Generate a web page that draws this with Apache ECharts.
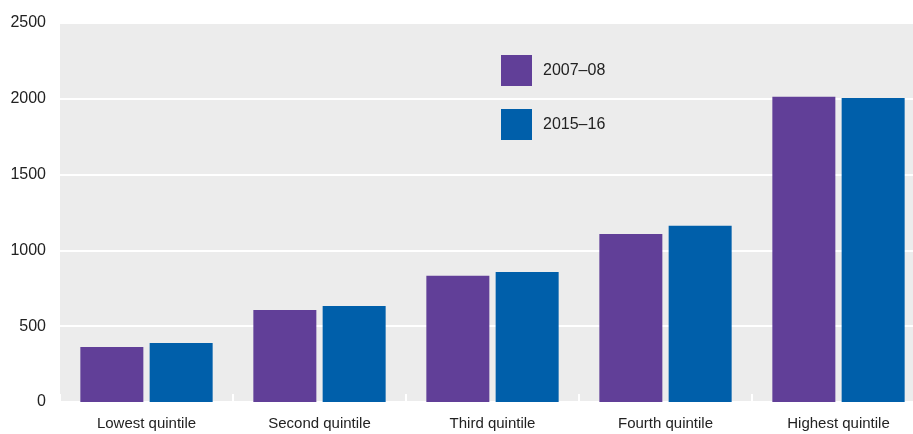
<!DOCTYPE html>
<html>
<head>
<meta charset="utf-8">
<script src="https://cdn.jsdelivr.net/npm/echarts@6/dist/echarts.min.js"></script>
<style>
html,body{margin:0;padding:0;background:#fff;overflow:hidden;}
#chart{width:925px;height:434px;}
</style>
</head>
<body>
<div id="chart"></div>
<script>
const categories = ['Lowest quintile', 'Second quintile', 'Third quintile', 'Fourth quintile', 'Highest quintile'];
const seriesNames = ['2007–08', '2015–16'];
const values2007 = [363, 607, 832, 1109, 2013];
const values2015 = [389, 634, 858, 1162, 2006];
const yTicks = [0, 500, 1000, 1500, 2000, 2500];

const FONT = '"Liberation Sans Narrow", "Arial Narrow", "Liberation Sans", Arial, sans-serif';
const chart = echarts.init(document.getElementById('chart'), null, {renderer: 'canvas'});
chart.setOption({
  animation: false,
  backgroundColor: '#ffffff',
  textStyle: {fontFamily: FONT},
  legend: {
    orient: 'vertical',
    left: 501,
    top: 55,
    padding: 0,
    itemWidth: 31,
    itemHeight: 31,
    itemGap: 23,
    icon: 'rect',
    data: seriesNames,
    textStyle: {fontFamily: FONT, fontSize: 16, color: '#222', padding: [0, 0, 0, 6]}
  },
  grid: {
    left: 60,
    top: 23,
    width: 865,
    height: 379,
    show: true,
    backgroundColor: '#ececec',
    borderWidth: 0,
    containLabel: false
  },
  xAxis: {
    type: 'category',
    data: categories,
    axisLine: {show: false},
    axisTick: {show: true, inside: true, length: 8, lineStyle: {color: '#ffffff', width: 2}},
    axisLabel: {fontFamily: FONT, fontSize: 15, color: '#222', margin: 14}
  },
  yAxis: {
    type: 'value',
    min: yTicks[0],
    max: yTicks[yTicks.length - 1],
    interval: 500,
    axisLine: {show: false},
    axisTick: {show: false},
    splitLine: {show: true, lineStyle: {color: '#ffffff', width: 2}},
    axisLabel: {fontFamily: FONT, fontSize: 16, color: '#222', margin: 14, padding: [0, 0, 5, 0],
      formatter: function (v) { return String(v); }}
  },
  series: [
    {name: seriesNames[0], type: 'bar', data: values2007, barWidth: 63, barGap: '10%', itemStyle: {color: '#613f98'}},
    {name: seriesNames[1], type: 'bar', data: values2015, barWidth: 63, barGap: '10%', itemStyle: {color: '#005faa'}}
  ]
});
</script>
</body>
</html>
